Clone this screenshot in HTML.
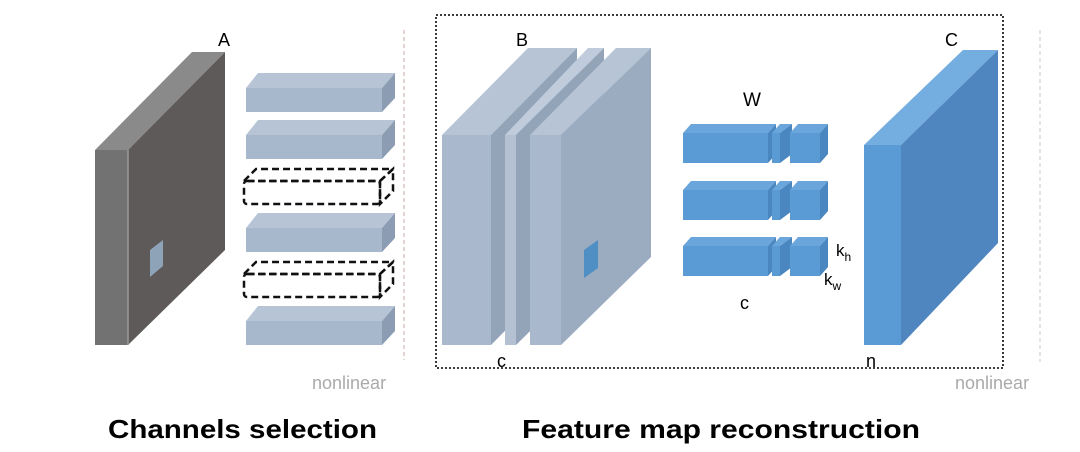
<!DOCTYPE html>
<html><head><meta charset="utf-8"><style>
html,body{margin:0;padding:0;background:#fff;}
svg{display:block;}
text{font-family:"Liberation Sans",sans-serif;}
</style></head><body>
<svg width="1080" height="452" viewBox="0 0 1080 452" xmlns="http://www.w3.org/2000/svg">
<rect width="1080" height="452" fill="#fff"/>
<!-- Panel A -->
<polygon points="95,150 128,150 225,52 192,52" fill="#8a8a8a"/>
<polygon points="95,150 128,150 128,345 95,345" fill="#727272"/>
<polygon points="128,150 225,52 225,250 128,345" fill="#5e5a5a"/>
<line x1="128" y1="150" x2="128" y2="345" stroke="#9a9a9a" stroke-width="1.5"/>
<polygon points="150,250 163,240 163,266 150,277" fill="#8fa3b8"/>
<text x="218" y="46" font-size="18">A</text>
<!-- bars -->
<g id="bars">
<g transform="translate(0,0)"><polygon points="246,88 258,73 395,73 382,88" fill="#b6c4d6"/><rect x="246" y="88" width="136" height="24" fill="#a8b8cc"/><polygon points="382,88 395,73 395,98 382,112" fill="#8c9db3"/></g>
<g transform="translate(0,47)"><polygon points="246,88 258,73 395,73 382,88" fill="#b6c4d6"/><rect x="246" y="88" width="136" height="24" fill="#a8b8cc"/><polygon points="382,88 395,73 395,98 382,112" fill="#8c9db3"/></g>
<g transform="translate(0,93)" fill="none" stroke="#111" stroke-width="2.5" stroke-dasharray="7,4"><polygon points="244,88 256,76 393,76 380,88"/><rect x="244" y="88" width="136" height="23" rx="3"/><polygon points="380,88 393,76 393,98 380,111"/></g>
<g transform="translate(0,140)"><polygon points="246,88 258,73 395,73 382,88" fill="#b6c4d6"/><rect x="246" y="88" width="136" height="24" fill="#a8b8cc"/><polygon points="382,88 395,73 395,98 382,112" fill="#8c9db3"/></g>
<g transform="translate(0,186)" fill="none" stroke="#111" stroke-width="2.5" stroke-dasharray="7,4"><polygon points="244,88 256,76 393,76 380,88"/><rect x="244" y="88" width="136" height="23" rx="3"/><polygon points="380,88 393,76 393,98 380,111"/></g>
<g transform="translate(0,233)"><polygon points="246,88 258,73 395,73 382,88" fill="#b6c4d6"/><rect x="246" y="88" width="136" height="24" fill="#a8b8cc"/><polygon points="382,88 395,73 395,98 382,112" fill="#8c9db3"/></g>
</g>
<line x1="404" y1="30" x2="404" y2="360" stroke="#c8a8a8" stroke-width="1" stroke-dasharray="4,3"/>
<line x1="1040" y1="30" x2="1040" y2="362" stroke="#c8c8c8" stroke-width="1" stroke-dasharray="4,3"/>
<text x="312" y="389" font-size="18" fill="#aaa">nonlinear</text>
<text x="955" y="389" font-size="18" fill="#aaa">nonlinear</text>
<!-- dotted frame -->
<rect x="436" y="15" width="567" height="353" fill="none" stroke="#222" stroke-width="1.8" stroke-dasharray="2,2"/>
<!-- B slabs -->
<polygon points="442,135 491,135 577,48 528,48" fill="#b6c4d6"/>
<polygon points="491,135 577,48 577,258 491,345" fill="#93a3b8"/>
<rect x="442" y="135" width="49" height="210" fill="#a9b8cc"/>
<polygon points="505,135 516,135 604,48 588,48" fill="#c0ccdc"/>
<polygon points="516,135 604,48 604,258 516,345" fill="#93a3b8"/>
<rect x="505" y="135" width="11" height="210" fill="#b3c1d3"/>
<polygon points="530,135 561,135 651,48 616,48" fill="#b6c4d6"/>
<polygon points="561,135 651,48 651,257 561,345" fill="#9babc0"/>
<rect x="530" y="135" width="31" height="210" fill="#a9b8cc"/>
<polygon points="584,250 598,240 598,268 584,278" fill="#4f8fc4"/>
<text x="516" y="46" font-size="18">B</text>
<text x="497" y="367" font-size="18">c</text>
<!-- W blocks -->
<g id="w">
<g><polygon points="683,133 691,124 776,124 768,133" fill="#6aa6dc"/><rect x="683" y="133" width="85" height="30" fill="#5b9bd5"/><polygon points="768,133 776,124 776,154 768,163" fill="#4a86c0"/>
<rect x="772" y="133" width="8" height="30" fill="#5b9bd5"/><polygon points="772,133 780,124 792,124 780,133" fill="#6aa6dc"/><polygon points="780,133 792,124 792,154 780,163" fill="#4a86c0"/>
<polygon points="790,133 798,124 828,124 820,133" fill="#6aa6dc"/><rect x="790" y="133" width="30" height="30" fill="#5b9bd5"/><polygon points="820,133 828,124 828,154 820,163" fill="#4a86c0"/></g>
<g transform="translate(0,57)"><polygon points="683,133 691,124 776,124 768,133" fill="#6aa6dc"/><rect x="683" y="133" width="85" height="30" fill="#5b9bd5"/><polygon points="768,133 776,124 776,154 768,163" fill="#4a86c0"/>
<rect x="772" y="133" width="8" height="30" fill="#5b9bd5"/><polygon points="772,133 780,124 792,124 780,133" fill="#6aa6dc"/><polygon points="780,133 792,124 792,154 780,163" fill="#4a86c0"/>
<polygon points="790,133 798,124 828,124 820,133" fill="#6aa6dc"/><rect x="790" y="133" width="30" height="30" fill="#5b9bd5"/><polygon points="820,133 828,124 828,154 820,163" fill="#4a86c0"/></g>
<g transform="translate(0,113)"><polygon points="683,133 691,124 776,124 768,133" fill="#6aa6dc"/><rect x="683" y="133" width="85" height="30" fill="#5b9bd5"/><polygon points="768,133 776,124 776,154 768,163" fill="#4a86c0"/>
<rect x="772" y="133" width="8" height="30" fill="#5b9bd5"/><polygon points="772,133 780,124 792,124 780,133" fill="#6aa6dc"/><polygon points="780,133 792,124 792,154 780,163" fill="#4a86c0"/>
<polygon points="790,133 798,124 828,124 820,133" fill="#6aa6dc"/><rect x="790" y="133" width="30" height="30" fill="#5b9bd5"/><polygon points="820,133 828,124 828,154 820,163" fill="#4a86c0"/></g>
</g>
<text x="743" y="106" font-size="19">W</text>
<text x="740" y="309" font-size="18">c</text>
<text x="836" y="256" font-size="17">k<tspan font-size="12" dy="5">h</tspan></text>
<text x="824" y="285" font-size="17">k<tspan font-size="12" dy="5">w</tspan></text>
<!-- C panel -->
<polygon points="864,145 901,145 998,50 963,50" fill="#74addf"/>
<polygon points="901,145 998,50 998,243 901,345" fill="#4f86bf"/>
<rect x="864" y="145" width="37" height="200" fill="#5b9bd5"/>
<text x="945" y="46" font-size="18">C</text>
<text x="866" y="367" font-size="18">n</text>
<!-- titles -->
<text x="108" y="438" font-size="26" font-weight="bold" textLength="269" lengthAdjust="spacingAndGlyphs">Channels selection</text>
<text x="522" y="438" font-size="26" font-weight="bold" textLength="398" lengthAdjust="spacingAndGlyphs">Feature map reconstruction</text>
</svg>
</body></html>
